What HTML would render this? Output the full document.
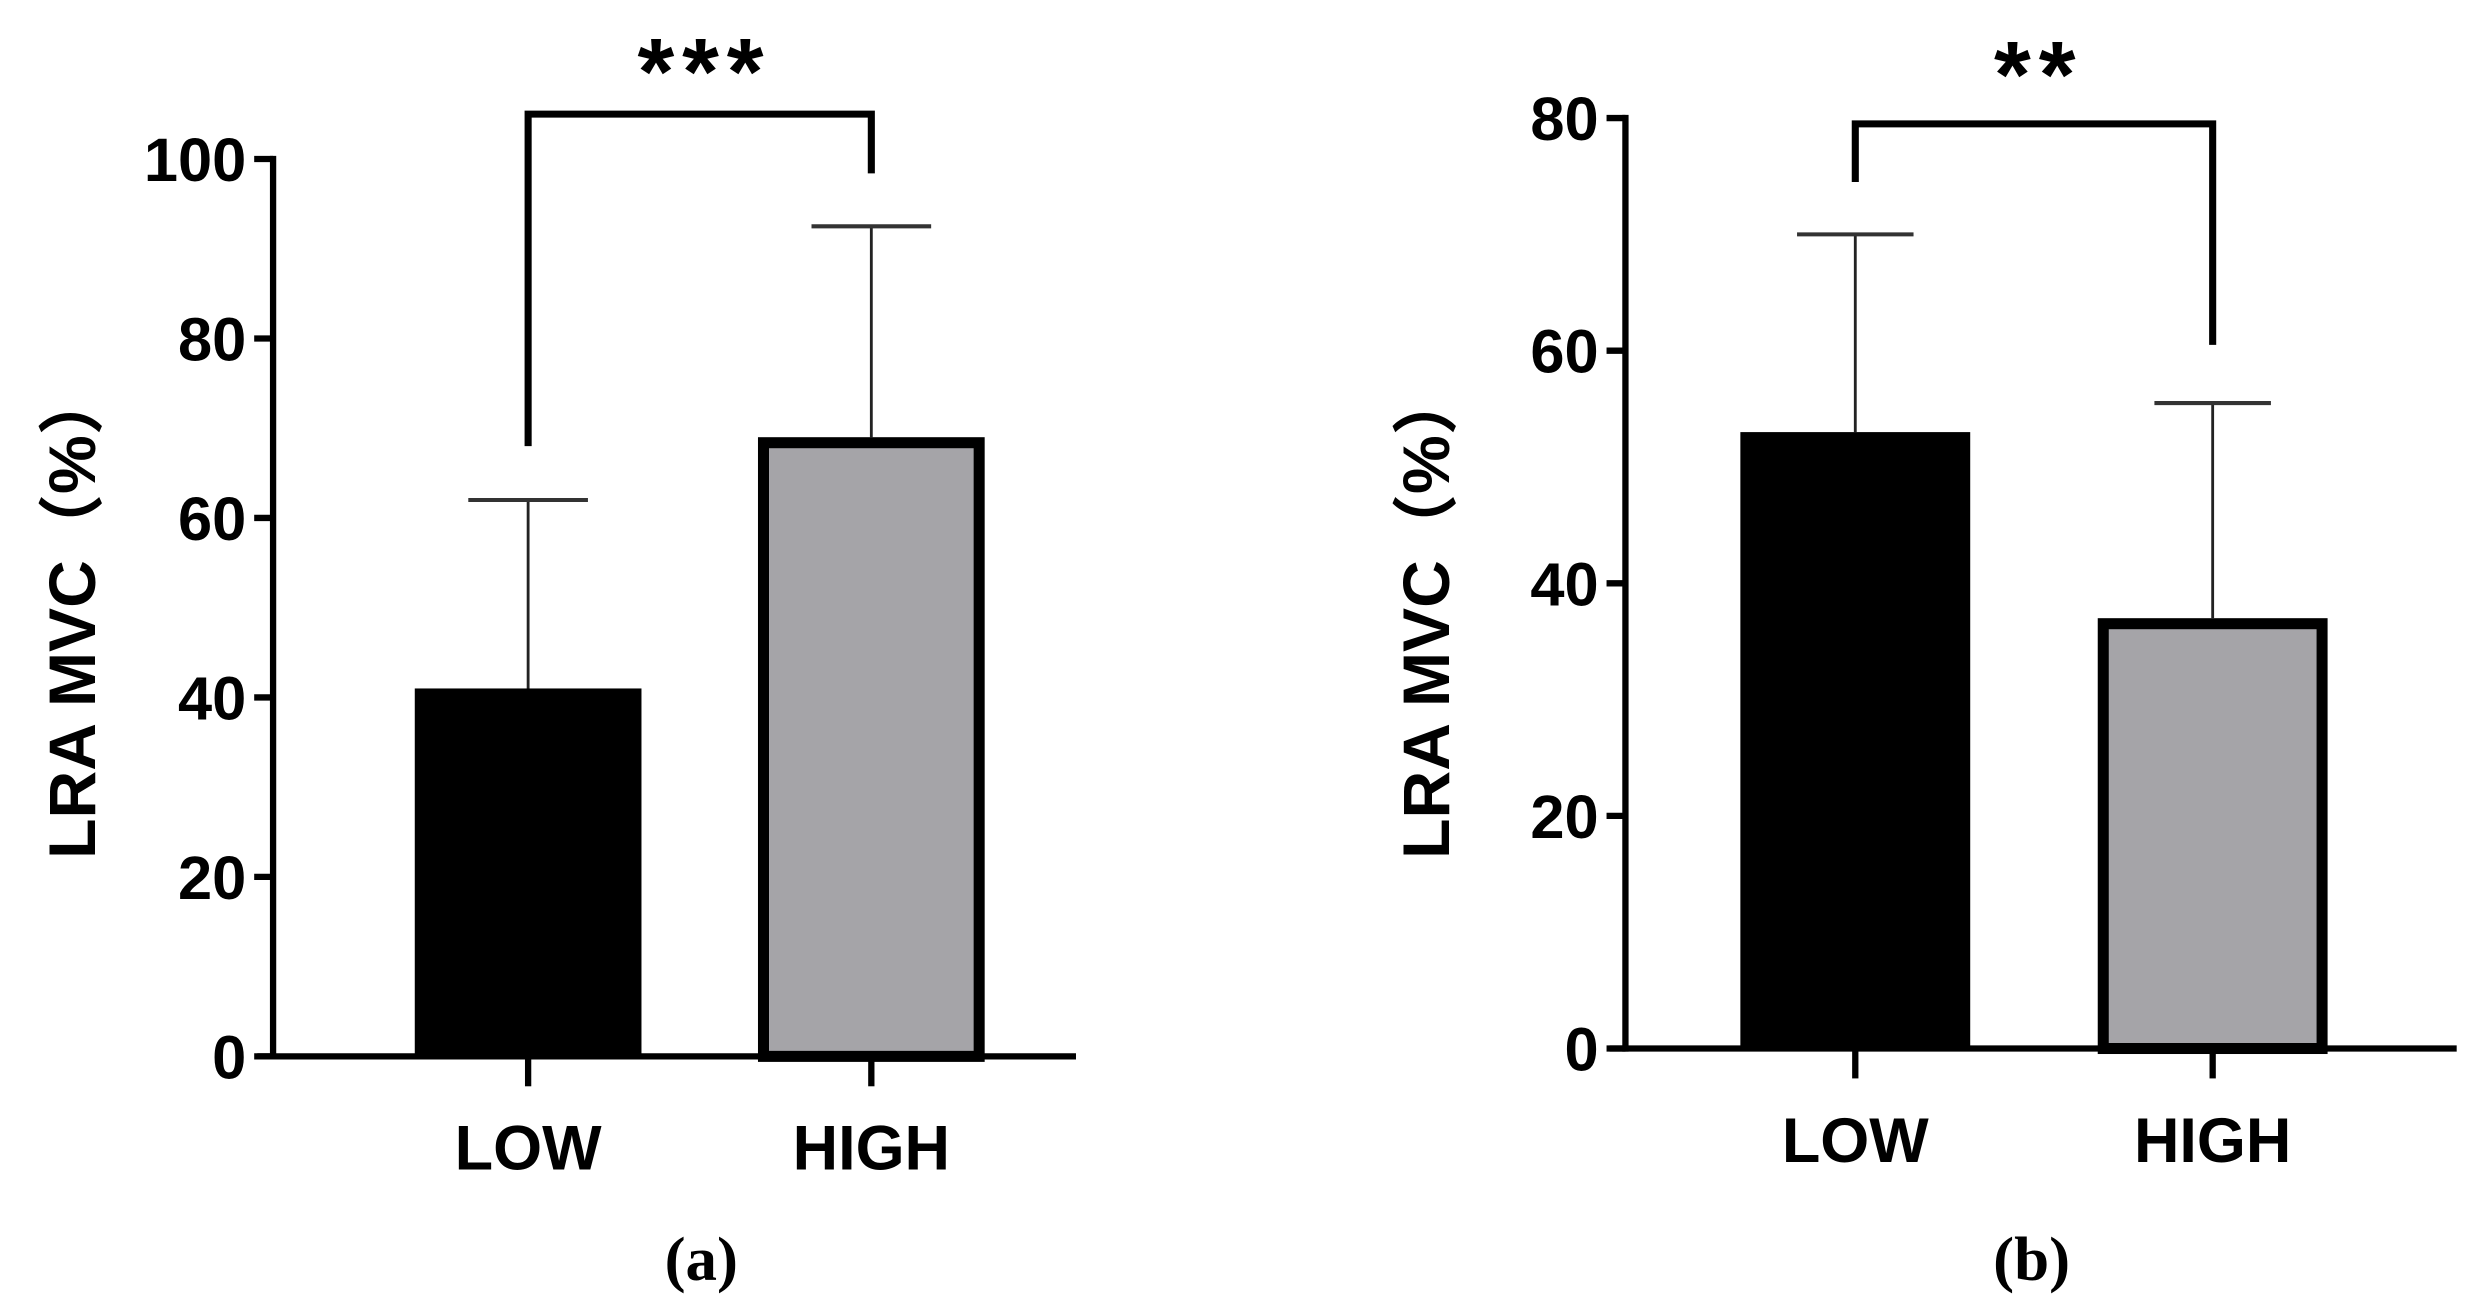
<!DOCTYPE html>
<html><head><meta charset="utf-8">
<style>html,body{margin:0;padding:0;background:#fff;}svg{display:block;}</style>
</head><body>
<svg id="chart" width="2470" height="1313" viewBox="0 0 1568 834" xmlns="http://www.w3.org/2000/svg"></svg>
<script>
const categories = ["LOW", "HIGH"];
const meansA = [41, 69];
const errsA = [62, 92.5];
const ticksA = [0, 20, 40, 60, 80, 100];
const meansB = [53, 37];
const errsB = [70, 55.5];
const ticksB = [0, 20, 40, 60, 80];
const starsA = "***";
const starsB = "**";
const bracketA = [68, 105, 98.4];
const bracketB = [74.5, 79.5, 60.5];

const NS = "http://www.w3.org/2000/svg";
const svg = document.getElementById("chart");
function mk(tag, attrs, parent) {
  const e = document.createElementNS(NS, tag);
  for (const k in attrs) e.setAttribute(k, attrs[k]);
  (parent || svg).appendChild(e);
  return e;
}
const sans = '"Liberation Sans", "Noto Sans CJK SC", sans-serif';

function panel(cfg) {
  const g = mk("g", {});
  
  
  const y = v => cfg.y0 - (v - 0) / cfg.ymax * (cfg.y0 - cfg.ytop);
  const xs = cfg.xs;
  categories.forEach((c, i) => {
    const top = y(cfg.means[i]);
    const bw = cfg.bw;
    const ey = y(cfg.errs[i]);
    const el = mk("line", {x1: xs[i], x2: xs[i], y1: ey, y2: top, stroke: "#222", "stroke-width": 1.8}, g);
    
    
    const cap = mk("line", {x1: xs[i] - cfg.cap, x2: xs[i] + cfg.cap, y1: ey, y2: ey, stroke: "#333", "stroke-width": 2.6}, g);
    
    
    let r;
    if (i === 0) {
      r = mk("rect", {x: xs[i] - bw / 2, y: top, width: bw, height: cfg.y0 - top, fill: "#000"}, g);
    } else {
      r = mk("rect", {x: xs[i] - bw / 2 + 3.5, y: top + 3.5, width: bw - 7, height: cfg.y0 - top - 3.5, fill: "#a5a4a8", stroke: "#000", "stroke-width": 7}, g);
    }
    
    
    const t = mk("text", {x: xs[i], y: cfg.y0 + 72, "text-anchor": "middle", "font-family": sans, "font-weight": "bold", "font-size": 40}, g);
    t.textContent = c;
    
    
    const tk = mk("line", {x1: xs[i], x2: xs[i], y1: cfg.y0, y2: cfg.y0 + 19, stroke: "#000", "stroke-width": 4}, g);
    
    
  });
  const ya = mk("line", {x1: cfg.ax, x2: cfg.ax, y1: cfg.ytop - 2, y2: cfg.y0 + 2, stroke: "#000", "stroke-width": 4}, g);
  
  
  const xa = mk("line", {x1: cfg.ax - 10, x2: cfg.xend, y1: cfg.y0, y2: cfg.y0, stroke: "#000", "stroke-width": 4}, g);
  
  
  cfg.ticks.forEach(v => {
    const l = mk("line", {x1: cfg.ax - 12, x2: cfg.ax, y1: y(v), y2: y(v), stroke: "#000", "stroke-width": 4}, g);
    
    
    const t = mk("text", {x: cfg.ax - 17, y: y(v) + 14, "text-anchor": "end", "font-family": sans, "font-weight": "bold", "font-size": 39}, g);
    t.textContent = v;
    
    
  });
  const yt = mk("text", {x: 0, y: 0, transform: `translate(${cfg.titleX},${cfg.titleY}) rotate(-90)`, "text-anchor": "middle", "font-family": sans, "font-weight": "bold", "font-size": 42}, g);
  yt.textContent = "LRA MVC（%）";
  
  
  const b = cfg.bracket;
  const br = mk("path", {d: `M${xs[0]},${y(b[0])} V${y(b[1])} H${xs[1]} V${y(b[2])}`, fill: "none", stroke: "#000", "stroke-width": 4.5}, g);
  
  
  const st = mk("text", {x: (xs[0] + xs[1]) / 2 + 3, y: cfg.starY, "text-anchor": "middle", "font-family": sans, "font-weight": "bold", "font-size": 60, "letter-spacing": 5}, g);
  st.textContent = cfg.stars;
  
  
  const cap = mk("text", {x: cfg.capX, y: 813, "text-anchor": "middle", "font-family": '"Liberation Serif", serif', "font-weight": "bold", "font-size": 40}, g);
  cap.textContent = cfg.caption;
  
  
}

panel({name: "panel-a", ax: 173, y0: 671, ytop: 101, ymax: 100, xs: [335, 553], bw: 144, cap: 38, xend: 683,
  means: meansA, errs: errsA, ticks: ticksA, bracket: bracketA, stars: starsA, starY: 66,
  titleX: 60, titleY: 390, capX: 445, caption: "(a)"});
panel({name: "panel-b", ax: 1032, y0: 666, ytop: 75, ymax: 80, xs: [1178, 1405], bw: 146, cap: 37, xend: 1560,
  means: meansB, errs: errsB, ticks: ticksB, bracket: bracketB, stars: starsB, starY: 68,
  titleX: 920, titleY: 390, capX: 1290, caption: "(b)"});
</script>
</body></html>
